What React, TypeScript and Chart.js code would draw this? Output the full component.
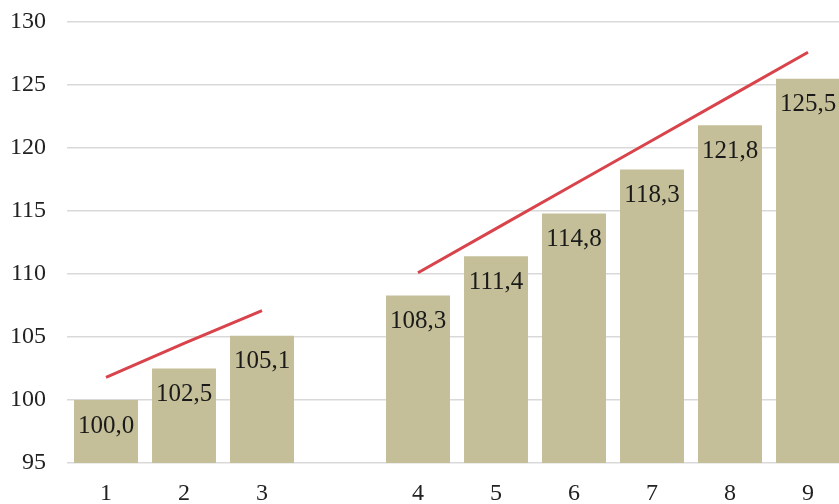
import React, { useEffect, useRef } from "react";
import { Chart, registerables } from "chart.js";

Chart.register(...registerables);

const categories = ["1", "2", "3", "", "4", "5", "6", "7", "8", "9"];
const barValues = [100.0, 102.5, 105.1, null, 108.3, 111.4, 114.8, 118.3, 121.8, 125.5];
const trendA = [101.8, 104.5, 107.1, null, null, null, null, null, null, null];
const trendB = [null, null, null, null, 110.1, 113.6, 117.1, 120.6, 124.1, 127.6];
const yMin = 95;
const yMax = 130;
const yStep = 5;

const FONT = "'Liberation Serif', 'Times New Roman', serif";

const labelPlugin = {
  id: "barLabels",
  afterDatasetsDraw(chart: any) {
    const ctx = chart.ctx;
    const meta = chart.getDatasetMeta(0);
    ctx.save();
    ctx.font = `25px ${FONT}`;
    ctx.fillStyle = "#1a1a1a";
    ctx.textAlign = "center";
    ctx.textBaseline = "middle";
    meta.data.forEach((el: any, i: number) => {
      const v = barValues[i];
      if (v === null || v === undefined) return;
      ctx.fillText(v.toFixed(1).replace(".", ","), el.x, el.y + 26);
    });
    ctx.restore();
  },
};

export default function App() {
  const ref = useRef<HTMLCanvasElement | null>(null);
  useEffect(() => {
    document.body.style.overflow = "hidden";
    const chart = new Chart(ref.current as HTMLCanvasElement, {
      type: "bar",
      data: {
        labels: categories,
        datasets: [
          {
            type: "bar",
            data: barValues as any,
            backgroundColor: "#c4bf98",
            barPercentage: 0.82,
            categoryPercentage: 1,
            order: 2,
          },
          {
            type: "line",
            data: trendA as any,
            borderColor: "#d9434b",
            borderWidth: 3,
            pointRadius: 0,
            spanGaps: false,
            order: 1,
          },
          {
            type: "line",
            data: trendB as any,
            borderColor: "#d9434b",
            borderWidth: 3,
            pointRadius: 0,
            spanGaps: false,
            order: 1,
          },
        ],
      },
      options: {
        animation: false,
        responsive: false,
        maintainAspectRatio: false,
        layout: { padding: { top: 22, right: 3, left: 0, bottom: 0 } },
        plugins: { legend: { display: false }, tooltip: { enabled: false } },
        scales: {
          x: {
            grid: { display: false },
            border: { display: false },
            ticks: {
              font: { family: FONT, size: 24 },
              color: "#222222",
              padding: 8,
              maxRotation: 0,
            },
            afterFit(axis: any) {
              axis.height = 41;
              axis.paddingLeft = 0;
              axis.paddingRight = 0;
            },
          },
          y: {
            min: yMin,
            max: yMax,
            grid: { color: "#d9d9d9", lineWidth: 1.5, drawTicks: false },
            border: { display: false },
            ticks: {
              stepSize: yStep,
              font: { family: FONT, size: 24 },
              color: "#222222",
              padding: 21,
            },
            afterFit(axis: any) {
              axis.width = 67;
              axis.paddingTop = 0;
              axis.paddingBottom = 0;
            },
          },
        },
      },
      plugins: [labelPlugin],
    });
    return () => chart.destroy();
  }, []);
  return (
    <div style={{ position: "absolute", left: 0, top: 0, width: 850, height: 504 }}>
      <canvas ref={ref} width={850} height={504} />
    </div>
  );
}
